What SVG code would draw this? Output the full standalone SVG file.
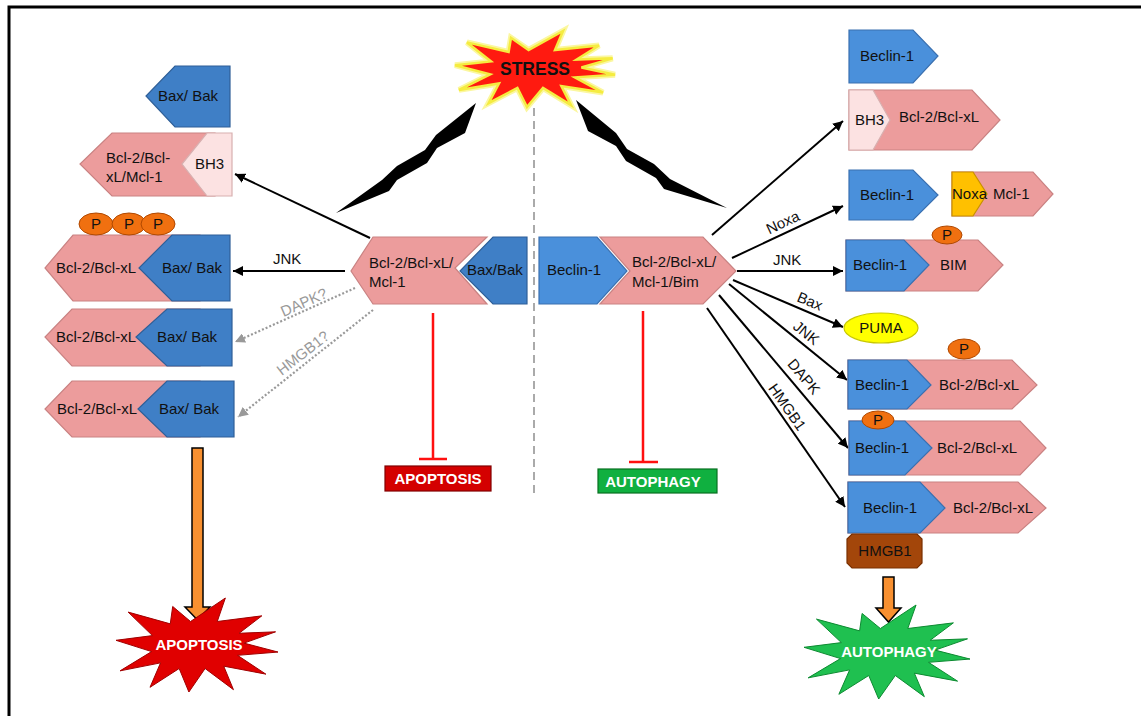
<svg xmlns="http://www.w3.org/2000/svg" xmlns:xlink="http://www.w3.org/1999/xlink" width="1141" height="716" viewBox="0 0 1141 716">
<style>
text{font-family:"Liberation Sans",Arial,sans-serif;font-size:15px;fill:#111}
.pink{fill:#ec9c9c;stroke:#c98282;stroke-width:1.2}
.lpink{fill:#fce2e2;stroke:#d8b0b0;stroke-width:1.2}
.blue{fill:#4a90db;stroke:#3a70b0;stroke-width:1.2}
.dblue{fill:#3f7fc6;stroke:#2f5f98;stroke-width:1.2}
.yel{fill:#ffc000;stroke:#c89000;stroke-width:1.2}
.p{fill:#f07010;stroke:#b04800;stroke-width:1}
.c{stroke:#000;stroke-width:2;fill:none;marker-end:url(#ah)}
.d{stroke:#999;stroke-width:2.2;fill:none;stroke-dasharray:2 2;marker-end:url(#ag)}
.inh{stroke:#ff1010;stroke-width:2.5;fill:none}
.lbl{font-size:15px}
.g{fill:#999}
.w{fill:#fff;font-weight:bold}
.mid{text-anchor:middle}
.orange{fill:#f89030;stroke:#000;stroke-width:1.5}
</style>
<defs>
<marker id="ah" viewBox="0 0 10 10" refX="10" refY="5" markerWidth="5" markerHeight="5" orient="auto"><path d="M0,0L10,5L0,10z" fill="#000"/></marker>
<marker id="ag" viewBox="0 0 10 10" refX="10" refY="5" markerWidth="4.5" markerHeight="4.5" orient="auto"><path d="M0,0L10,5L0,10z" fill="#999"/></marker>
<path id="burst" vector-effect="non-scaling-stroke" d="M1,0.15L0.5,0.22L0.85,0.62L0.33,0.45L0.45,0.95L0.1,0.5L-0.1,1L-0.22,0.5L-0.58,0.9L-0.45,0.38L-0.95,0.55L-0.56,0.14L-1,-0.1L-0.55,-0.2L-0.85,-0.7L-0.33,-0.45L-0.3,-0.82L-0.08,-0.5L0.35,-1L0.25,-0.5L0.8,-0.62L0.52,-0.25L0.97,-0.28L0.58,-0.04Z"/>
</defs>
<rect x="9" y="7" width="1150" height="720" fill="#fff" stroke="#000" stroke-width="3"/>

<g id="divider"><line x1="534" y1="108" x2="534" y2="497" stroke="#aaa" stroke-width="2" stroke-dasharray="8 5"/></g>

<g id="stress">
<use xlink:href="#burst" transform="translate(535,69) scale(80,38)" fill="none" stroke="#fbf7a0" stroke-width="6"/>
<use xlink:href="#burst" transform="translate(535,69) scale(80,38)" fill="#ff1a10" stroke="#f5ec40" stroke-width="2.5"/>
<text x="535" y="75" class="mid" style="font-weight:bold;font-size:17.5px">STRESS</text>
</g>
<g id="bolts">
<polygon points="476,103 465,133 437,148 427,163 397,180 389,191 336,213 382,180 397,166 425,150 436,135" fill="#000"/>
<polygon points="576,100 588,131 616,146 626,161 656,178 664,189 727,208 670,179 654,164 627,149 616,133" fill="#000"/>
</g>

<g id="connectors">
<line class="c" x1="370" y1="238" x2="235" y2="174"/>
<line class="c" x1="345" y1="271" x2="233" y2="271"/>
<line class="d" x1="355" y1="288" x2="235" y2="342"/>
<line class="d" x1="373" y1="310" x2="238" y2="417"/>
<text x="273" y="264">JNK</text>
<text class="mid g" transform="translate(306,307) rotate(-24)">DAPK?</text>
<text class="mid g" transform="translate(306,357) rotate(-38)">HMGB1?</text>
<path class="inh" d="M433,313V459M419,459H447"/>
<path class="inh" d="M643,311V462M629,462H658"/>
<line class="c" x1="712" y1="235" x2="843" y2="121"/>
<line class="c" x1="732" y1="258" x2="843" y2="206"/>
<line class="c" x1="737" y1="271" x2="843" y2="271"/>
<line class="c" x1="733" y1="280" x2="843" y2="327"/>
<line class="c" x1="729" y1="284" x2="847" y2="380"/>
<line class="c" x1="719" y1="295" x2="848" y2="448"/>
<line class="c" x1="707" y1="308" x2="845" y2="507"/>
<text class="lbl mid" transform="translate(785,227) rotate(-25)">Noxa</text>
<text class="lbl" x="773" y="265">JNK</text>
<text class="lbl mid" transform="translate(808,306) rotate(23)">Bax</text>
<text class="lbl mid" transform="translate(803,337) rotate(39)">JNK</text>
<text class="lbl mid" transform="translate(800,380) rotate(50)">DAPK</text>
<text class="lbl mid" transform="translate(783,410) rotate(55)">HMGB1</text>
<polygon class="orange" points="192,448 203,448 203,607 210,607 197.5,620 185,607 192,607"/>
<polygon class="orange" points="883,577 894,577 894,608 901,608 888.5,622 876,608 883,608"/>
</g>

<g id="baxbak-free">
<polygon class="dblue" points="175,66 230,66 230,127 175,127 146,96"/>
<text x="158" y="101">Bax/ Bak</text>
</g>
<g id="bcl2-bh3-left">
<polygon class="pink" points="112,133 215,133 215,196 112,196 80,164"/>
<polygon class="lpink" points="207,133 232,133 232,196 207,196 182,164"/>
<text x="106" y="163">Bcl-2/Bcl-</text>
<text x="106" y="182">xL/Mcl-1</text>
<text x="195" y="169">BH3</text>
</g>
<g id="jnk-complex-left">
<polygon class="pink" points="73,235 200,235 200,301 73,301 45,268"/>
<polygon class="dblue" points="172,235 230,235 230,301 172,301 139,268"/>
<ellipse class="p" cx="96" cy="224" rx="17" ry="11"/>
<ellipse class="p" cx="129" cy="224" rx="17" ry="11"/>
<ellipse class="p" cx="158" cy="224" rx="17" ry="11"/>
<text x="96" y="229" class="mid">P</text>
<text x="129" y="229" class="mid">P</text>
<text x="158" y="229" class="mid">P</text>
<text x="56" y="273">Bcl-2/Bcl-xL</text>
<text x="162" y="273">Bax/ Bak</text>
</g>
<g id="dapk-complex-left">
<polygon class="pink" points="72,309 200,309 200,366 72,366 45,337"/>
<polygon class="dblue" points="167,309 232,309 232,366 167,366 136,337"/>
<text x="56" y="342">Bcl-2/Bcl-xL</text>
<text x="157" y="342">Bax/ Bak</text>
</g>
<g id="hmgb1-complex-left">
<polygon class="pink" points="72,381 200,381 200,437 72,437 45,409"/>
<polygon class="dblue" points="167,381 234,381 234,437 167,437 138,409"/>
<text x="57" y="414">Bcl-2/Bcl-xL</text>
<text x="159" y="414">Bax/ Bak</text>
</g>
<g id="apoptosis-burst">
<use xlink:href="#burst" transform="translate(197,645) scale(81,47)" fill="#e00000" stroke="#a00000" stroke-width="1"/>
<text x="199" y="650" class="mid w">APOPTOSIS</text>
</g>

<g id="center-left">
<polygon class="pink" points="373,237 487,237 455,268 487,304 373,304 351,271"/>
<polygon class="dblue" points="493,237 527,237 527,304 493,304 460,271"/>
<text x="369" y="268">Bcl-2/Bcl-xL/</text>
<text x="369" y="287">Mcl-1</text>
<text x="467" y="275">Bax/Bak</text>
</g>
<g id="apoptosis-box">
<rect x="385" y="466" width="106" height="25" fill="#d40000" stroke="#800000" stroke-width="1.2"/>
<text x="438" y="484" class="mid w">APOPTOSIS</text>
</g>
<g id="center-right">
<polygon class="pink" points="600,237 703,237 736,271 703,304 600,304 630,271"/>
<polygon class="blue" points="539,237 597,237 627,271 597,304 539,304"/>
<text x="547" y="275">Beclin-1</text>
<text x="632" y="267">Bcl-2/Bcl-xL/</text>
<text x="632" y="287">Mcl-1/Bim</text>
</g>
<g id="autophagy-box">
<rect x="598" y="469" width="119" height="24" fill="#10b040" stroke="#087020" stroke-width="1.2"/>
<text x="653" y="487" class="mid w">AUTOPHAGY</text>
</g>

<g id="beclin-free">
<polygon class="blue" points="849,30 913,30 938,56 913,83 849,83"/>
<text x="860" y="61">Beclin-1</text>
</g>
<g id="bh3-bcl2-right">
<polygon class="pink" points="849,90 972,90 1000,120 972,150 849,150"/>
<polygon class="lpink" points="849,90 873,90 890,120 873,150 849,150"/>
<text x="855" y="125">BH3</text>
<text x="899" y="122">Bcl-2/Bcl-xL</text>
</g>
<g id="beclin-noxa">
<polygon class="blue" points="849,170 913,170 938,195 913,220 849,220"/>
<text x="860" y="200">Beclin-1</text>
</g>
<g id="noxa-mcl1">
<polygon class="pink" points="952,172 1033,172 1053,194 1033,216 952,216"/>
<polygon class="yel" points="952,172 973,172 987,194 973,216 952,216"/>
<text x="952" y="199">Noxa</text>
<text x="993" y="199">Mcl-1</text>
</g>
<g id="beclin-bim">
<polygon class="pink" points="846,240 978,240 1003,265 978,291 846,291"/>
<polygon class="blue" points="846,240 904,240 929,265 904,291 846,291"/>
<ellipse class="p" cx="947" cy="235" rx="15" ry="9"/>
<text x="947" y="240" class="mid">P</text>
<text x="853" y="270">Beclin-1</text>
<text x="940" y="270">BIM</text>
</g>
<g id="puma">
<ellipse cx="881" cy="328" rx="37" ry="15" fill="#ffff00" stroke="#c8c800" stroke-width="1.2"/>
<text x="881" y="333" class="mid">PUMA</text>
</g>
<g id="beclin-bcl2-jnk">
<polygon class="pink" points="848,360 1012,360 1037,385 1012,409 848,409"/>
<polygon class="blue" points="848,360 907,360 931,385 907,409 848,409"/>
<ellipse class="p" cx="964" cy="349" rx="16" ry="10"/>
<text x="964" y="354" class="mid">P</text>
<text x="855" y="390">Beclin-1</text>
<text x="939" y="390">Bcl-2/Bcl-xL</text>
</g>
<g id="beclin-bcl2-dapk">
<polygon class="pink" points="849,421 1020,421 1046,448 1020,475 849,475"/>
<polygon class="blue" points="849,421 905,421 932,448 905,475 849,475"/>
<ellipse class="p" cx="878" cy="420" rx="16" ry="9"/>
<text x="878" y="425" class="mid">P</text>
<text x="855" y="453">Beclin-1</text>
<text x="937" y="453">Bcl-2/Bcl-xL</text>
</g>
<g id="beclin-bcl2-hmgb1">
<polygon class="pink" points="848,482 1018,482 1046,508 1018,533 848,533"/>
<polygon class="blue" points="848,482 920,482 945,508 920,533 848,533"/>
<text x="863" y="513">Beclin-1</text>
<text x="953" y="513">Bcl-2/Bcl-xL</text>
</g>
<g id="hmgb1">
<polygon points="852,534 917,534 922,539 922,563 917,568 852,568 847,563 847,539" fill="#a3460a" stroke="#7a3000" stroke-width="1.2"/>
<text x="885" y="556" class="mid">HMGB1</text>
</g>
<g id="autophagy-burst">
<use xlink:href="#burst" transform="translate(887,652) scale(83,47)" fill="#1fc050" stroke="#0c8a30" stroke-width="1"/>
<text x="889" y="657" class="mid w">AUTOPHAGY</text>
</g>
</svg>
